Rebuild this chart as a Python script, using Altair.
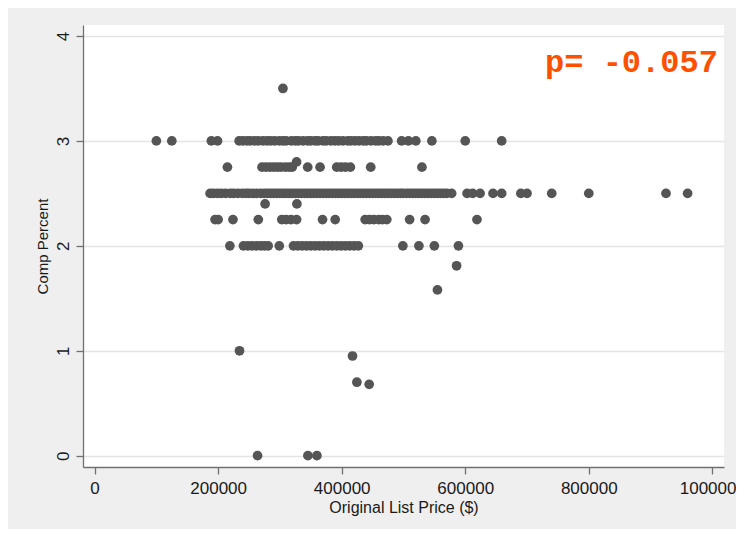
import altair as alt
import pandas as pd

# Comp Percent levels and the Original List Price values found at each level
price_300 = [100000, 125000, 189000, 199000,
             234000, 239900, 246500, 252000, 259000, 265000, 272500, 279000, 285000,
             291500, 299000, 305000, 310000, 318500, 324900, 330000, 337500, 344900,
             349900, 357000, 362000, 369900, 375000, 382500, 389000, 395000, 402000,
             409900, 415000, 421500, 428000, 435000, 440000, 447500, 454900, 460000,
             467000, 474900,
             497000, 508000, 520000, 546000, 600000, 659000]
price_280 = [327000]
price_275 = [215000, 271000, 277500, 284000, 289900, 296000, 302000, 309000, 315000,
             319900, 345000, 365000, 392000, 399000, 406000, 414000, 447000, 529900]
price_250 = [187000, 192500, 199000, 205000, 212000, 219900, 225000, 232000, 239000,
             245000, 249900, 256000, 262000, 269000, 275000, 279900, 285000, 289900,
             295000, 299900, 305000, 310000, 315000, 319900, 325000, 329900, 335000,
             339900, 345000, 349900, 355000, 359900, 365000, 369900, 375000, 379900,
             385000, 389900, 395000, 399900, 405000, 410000, 415000, 419900, 425000,
             429900, 435000, 439900, 445000, 449900, 455000, 459900, 465000, 469900,
             475000, 479900, 485000, 489900, 495000, 499000, 505000, 510000, 515000,
             519900, 525000, 529900, 535000, 539900, 545000, 549900, 555000, 559900,
             565000, 569900, 578000,
             603000, 612000, 624000, 645000, 659000, 690000, 700000, 740000, 800000,
             925000, 960000]
price_240 = [276000, 327500]
price_225 = [195000, 200000, 224000, 265000, 303000, 310000, 318000, 327000, 369000,
             389500, 438000, 445000, 452000, 460000, 466000, 473000, 510000, 535000,
             619000]
price_200 = [219000, 241000, 248000, 255000, 262000, 269000, 275000, 281000, 299000,
             322000, 329000, 336000, 343000, 350000, 357000, 364000, 371000, 378000,
             385000, 392000, 399000, 406000, 413000, 420000, 427000,
             499000, 525000, 550000, 589000]

# scattered single observations
out_price = [304900, 586000, 555000, 234600, 417500, 424600, 444500, 263800, 345300, 359900]
out_pct = [3.5, 1.81, 1.58, 1.0, 0.95, 0.70, 0.68, 0.0, 0.0, 0.0]

levels = [(3.0, price_300), (2.8, price_280), (2.75, price_275), (2.5, price_250),
          (2.4, price_240), (2.25, price_225), (2.0, price_200)]

rows = []
for pct, prices in levels:
    for p in prices:
        rows.append({"price": p, "pct": pct})
for p, c in zip(out_price, out_pct):
    rows.append({"price": p, "pct": c})
df = pd.DataFrame(rows)

x_ticks = [0, 200000, 400000, 600000, 800000, 1000000]
y_ticks = [0, 1, 2, 3, 4]

ann_x = [1009000]
ann_y = [3.66]
ann_text = ["p= -0.057"]
ann = pd.DataFrame({"x": ann_x, "y": ann_y, "t": ann_text})

xscale = alt.Scale(domain=[-18770, 1018900], nice=False, zero=False)
yscale = alt.Scale(domain=[-0.108, 4.105], nice=False, zero=False)

points = alt.Chart(df).mark_circle(size=95, color="#555555", opacity=1).encode(
    x=alt.X("price:Q", scale=xscale,
            axis=alt.Axis(values=x_ticks, format="d", title="Original List Price ($)",
                          grid=False, labelFontSize=17, labelPadding=6,
                          titleFontSize=16, titlePadding=3)),
    y=alt.Y("pct:Q", scale=yscale,
            axis=alt.Axis(values=y_ticks, format="d", title="Comp Percent",
                          grid=True, gridColor="#e4e4e4", gridWidth=1.5,
                          labelAngle=270, labelAlign="center", labelBaseline="bottom",
                          labelFontSize=17, labelPadding=4,
                          titleFontSize=15, titlePadding=4)),
)

text = alt.Chart(ann).mark_text(
    font="Liberation Mono", fontSize=32, fontWeight="bold", color="#ff5000",
    align="right", baseline="alphabetic"
).encode(
    x=alt.X("x:Q", scale=xscale),
    y=alt.Y("y:Q", scale=yscale),
    text="t:N",
)

chart = alt.layer(points, text).properties(
    width=641, height=442,
    autosize="none",
    padding={"left": 75, "top": 17, "right": 12, "bottom": 62},
    background="#efefef",
).configure_view(
    fill="white", stroke=None
).configure_axis(
    labelFont="Liberation Sans", titleFont="Liberation Sans",
    labelColor="#1a1a1a", titleColor="#1a1a1a",
    titleFontWeight="normal",
    domainColor="#707070", domainWidth=1.3,
    tickColor="#707070", tickSize=7, tickWidth=1.3,
)

chart.save("out.html", embed_options={"renderer": "svg", "actions": False})
